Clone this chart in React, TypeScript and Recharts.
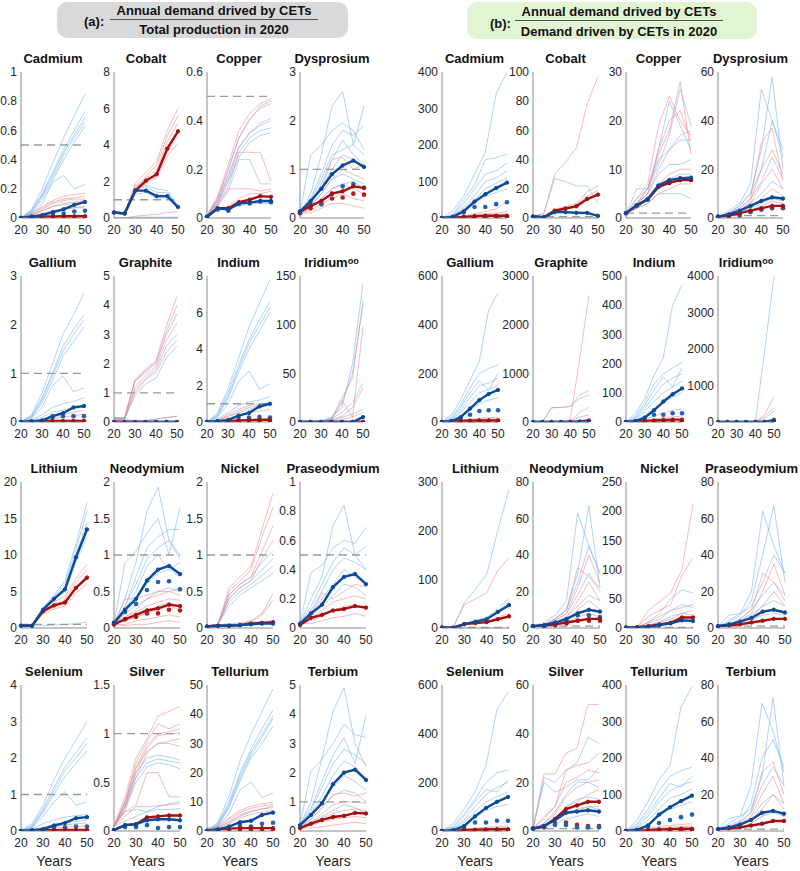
import React from 'react';
import { LineChart, Line, XAxis, YAxis, ReferenceLine } from 'recharts';

// x values are years since 2000
const YEARS = [20, 25, 30, 35, 40, 45, 50];
const X_TICKS = [20, 30, 40, 50];

type Panel = {
  name: string;
  sup?: string;
  ticks: number[];
  ref?: number;
  blue: number[];
  red: number[];
  blueDots?: number[];
  redDots?: number[];
  fadedBlue: number[][];
  fadedRed: number[][];
};

// ---------- (a) demand / total production in 2020 ----------
const cadmiumA: Panel = {
  name: 'Cadmium', ticks: [0, 0.2, 0.4, 0.6, 0.8, 1], ref: 0.5,
  blue: [0, 0.01, 0.02, 0.04, 0.06, 0.09, 0.11],
  red: [0, 0.005, 0.01, 0.01, 0.012, 0.012, 0.012],
  blueDots: [0, 0.005, 0.01, 0.03, 0.03, 0.045, 0.05],
  redDots: [0, 0, 0.003, 0.005, 0.005, 0.005, 0.005],
  fadedBlue: [
    [0, 0.06, 0.2, 0.38, 0.55, 0.7, 0.85],
    [0, 0.05, 0.17, 0.32, 0.47, 0.6, 0.73],
    [0, 0.05, 0.16, 0.3, 0.45, 0.57, 0.69],
    [0, 0.04, 0.15, 0.28, 0.43, 0.55, 0.66],
    [0, 0.04, 0.13, 0.26, 0.4, 0.52, 0.63],
    [0, 0.03, 0.1, 0.25, 0.29, 0.2, 0.23],
    [0, 0.02, 0.05, 0.08, 0.09, 0.1, 0.1],
    [0, 0.01, 0.03, 0.05, 0.06, 0.07, 0.07],
  ],
  fadedRed: [
    [0, 0.03, 0.08, 0.12, 0.15, 0.16, 0.17],
    [0, 0.03, 0.07, 0.11, 0.13, 0.14, 0.15],
    [0, 0.02, 0.06, 0.1, 0.12, 0.13, 0.13],
    [0, 0.02, 0.05, 0.08, 0.1, 0.11, 0.12],
    [0, 0.01, 0.03, 0.05, 0.06, 0.07, 0.08],
  ],
};

const cobaltA: Panel = {
  name: 'Cobalt', ticks: [0, 2, 4, 6, 8], ref: 1,
  blue: [0.3, 0.25, 1.5, 1.5, 1.2, 1.2, 0.6],
  red: [0.3, 0.25, 1.5, 2.05, 2.4, 3.8, 4.75],
  fadedBlue: [
    [0.3, 0.3, 1.8, 1.8, 1.6, 1.5, 0.7],
    [0.3, 0.3, 1.6, 1.7, 1.4, 1.4, 0.6],
    [0.3, 0.3, 1.3, 1.4, 1.1, 1.1, 0.5],
    [0, 0, 0.05, 0.05, 0.05, 0.05, 0.05],
  ],
  fadedRed: [
    [0.3, 0.3, 1.9, 2.5, 3.1, 4.8, 6.0],
    [0.3, 0.3, 1.7, 2.3, 2.9, 4.5, 5.6],
    [0.3, 0.3, 1.6, 2.2, 2.6, 4.2, 5.2],
    [0.3, 0.3, 1.5, 2.0, 2.3, 3.6, 4.5],
    [0.3, 0.3, 1.4, 1.9, 2.2, 3.4, 4.1],
    [0, 0, 0.1, 0.15, 0.2, 0.3, 0.35],
  ],
};

const copperA: Panel = {
  name: 'Copper', ticks: [0, 0.2, 0.4, 0.6], ref: 0.5,
  blue: [0.005, 0.04, 0.035, 0.06, 0.063, 0.07, 0.07],
  red: [0.005, 0.04, 0.04, 0.065, 0.075, 0.09, 0.087],
  blueDots: [0.005, 0.035, 0.03, 0.058, 0.06, 0.068, 0.065],
  fadedBlue: [
    [0.01, 0.08, 0.2, 0.33, 0.41, 0.45, 0.47],
    [0.01, 0.07, 0.18, 0.29, 0.35, 0.38, 0.4],
    [0.01, 0.06, 0.16, 0.27, 0.33, 0.36, 0.37],
    [0.01, 0.06, 0.15, 0.25, 0.31, 0.34, 0.35],
    [0.01, 0.05, 0.11, 0.24, 0.24, 0.14, 0.14],
    [0.01, 0.03, 0.04, 0.05, 0.06, 0.06, 0.06],
  ],
  fadedRed: [
    [0.01, 0.09, 0.22, 0.36, 0.43, 0.47, 0.49],
    [0.01, 0.08, 0.2, 0.33, 0.4, 0.46, 0.48],
    [0.01, 0.07, 0.17, 0.29, 0.35, 0.39, 0.41],
    [0.01, 0.06, 0.13, 0.27, 0.27, 0.27, 0.15],
    [0.01, 0.05, 0.12, 0.12, 0.12, 0.11, 0.12],
    [0.01, 0.03, 0.05, 0.08, 0.1, 0.1, 0.11],
  ],
};

const dysprosiumA: Panel = {
  name: 'Dysprosium', ticks: [0, 1, 2, 3], ref: 1,
  blue: [0.13, 0.35, 0.6, 0.9, 1.08, 1.18, 1.05],
  red: [0.13, 0.25, 0.35, 0.5, 0.55, 0.65, 0.62],
  blueDots: [0.13, 0.28, 0.3, 0.5, 0.65, 0.7, 0.62],
  redDots: [0.1, 0.2, 0.28, 0.4, 0.42, 0.5, 0.48],
  fadedBlue: [
    [0.1, 0.5, 1.3, 2.3, 2.6, 1.5, 1.3],
    [0.1, 1.3, 1.5, 1.8, 1.95, 1.8, 1.4],
    [0.1, 0.4, 0.9, 1.5, 1.8, 1.7, 1.9],
    [0.1, 0.35, 0.8, 1.3, 1.4, 1.5, 2.3],
    [0.1, 0.3, 0.7, 1.2, 1.6, 1.3, 1.1],
    [0.1, 0.3, 0.6, 1.0, 1.3, 1.2, 1.0],
    [0.1, 0.25, 0.5, 0.8, 0.9, 0.8, 0.7],
    [0.1, 0.2, 0.4, 0.6, 0.7, 0.75, 0.6],
  ],
  fadedRed: [
    [0.1, 0.3, 0.6, 1.2, 1.25, 1.0, 1.1],
    [0.1, 0.25, 0.5, 0.8, 1.0, 0.9, 0.8],
    [0.1, 0.2, 0.4, 0.6, 0.7, 0.6, 0.5],
    [0.1, 0.15, 0.3, 0.4, 0.5, 0.4, 0.35],
    [0.1, 0.1, 0.2, 0.3, 0.3, 0.25, 0.2],
  ],
};

const galliumA: Panel = {
  name: 'Gallium', ticks: [0, 1, 2, 3], ref: 1,
  blue: [0, 0.01, 0.03, 0.12, 0.18, 0.3, 0.33],
  red: [0, 0.01, 0.02, 0.02, 0.02, 0.02, 0.02],
  blueDots: [0, 0.01, 0.02, 0.1, 0.12, 0.12, 0.12],
  redDots: [0, 0.005, 0.01, 0.01, 0.01, 0.01, 0.01],
  fadedBlue: [
    [0, 0.15, 0.6, 1.2, 1.8, 2.2, 2.65],
    [0, 0.12, 0.5, 1.0, 1.55, 1.9, 2.2],
    [0, 0.1, 0.45, 0.95, 1.45, 1.8, 2.1],
    [0, 0.1, 0.4, 0.85, 1.35, 1.65, 1.95],
    [0, 0.08, 0.3, 0.75, 0.95, 0.62, 0.7],
    [0, 0.05, 0.15, 0.3, 0.38, 0.42, 0.5],
    [0, 0.03, 0.1, 0.2, 0.25, 0.28, 0.3],
  ],
  fadedRed: [
    [0, 0.02, 0.06, 0.1, 0.15, 0.2, 0.25],
    [0, 0.01, 0.04, 0.07, 0.1, 0.13, 0.16],
  ],
};

const graphiteA: Panel = {
  name: 'Graphite', ticks: [0, 1, 2, 3, 4, 5], ref: 1,
  blue: [0, 0, 0, 0, 0, 0, 0],
  red: [0, 0, 0, 0, 0, 0, 0],
  fadedBlue: [
    [0.1, 0.1, 1.4, 1.7, 2.0, 3.0, 3.7],
    [0.1, 0.1, 1.1, 1.5, 1.8, 2.6, 3.0],
    [0.1, 0.1, 0.9, 1.3, 1.5, 2.2, 2.6],
    [0.15, 0.1, 0.05, 0.05, 0.1, 0.15, 0.2],
  ],
  fadedRed: [
    [0.15, 0.15, 1.45, 1.8, 2.1, 3.3, 4.3],
    [0.15, 0.15, 1.4, 1.75, 2.05, 3.1, 4.0],
    [0.1, 0.1, 1.2, 1.6, 1.9, 2.8, 3.4],
    [0.1, 0.1, 1.0, 1.45, 1.7, 2.4, 2.8],
    [0.05, 0.05, 0.05, 0.05, 0.1, 0.15, 0.2],
  ],
};

const indiumA: Panel = {
  name: 'Indium', ticks: [0, 2, 4, 6, 8], ref: 1,
  blue: [0, 0.05, 0.1, 0.35, 0.5, 0.85, 1.0],
  red: [0, 0.02, 0.05, 0.08, 0.1, 0.12, 0.12],
  blueDots: [0, 0.02, 0.05, 0.25, 0.25, 0.28, 0.25],
  redDots: [0, 0, 0.01, 0.01, 0.01, 0.01, 0.01],
  fadedBlue: [
    [0, 0.5, 1.8, 3.5, 5.2, 6.5, 7.8],
    [0, 0.4, 1.6, 3.1, 4.5, 5.6, 6.6],
    [0, 0.35, 1.4, 2.9, 4.3, 5.3, 6.3],
    [0, 0.3, 1.3, 2.7, 4.0, 5.0, 6.0],
    [0, 0.25, 1.0, 2.2, 2.8, 1.8, 2.1],
    [0, 0.15, 0.5, 0.9, 1.1, 1.2, 1.4],
    [0, 0.1, 0.3, 0.6, 0.8, 0.9, 1.0],
  ],
  fadedRed: [
    [0, 0.1, 0.4, 0.7, 0.9, 1.0, 1.05],
    [0, 0.08, 0.3, 0.5, 0.7, 0.85, 0.95],
    [0, 0.05, 0.2, 0.35, 0.5, 0.6, 0.7],
  ],
};

const iridiumA: Panel = {
  name: 'Iridium', sup: 'oo', ticks: [0, 50, 100, 150], ref: 1,
  blue: [0, 0, 0, 0, 0, 0, 5],
  red: [0, 0, 0, 0, 0, 0, 0],
  blueDots: [0, 0, 0, 0, 0, 0, 0],
  fadedBlue: [
    [0, 0, 1, 5, 15, 60, 142],
    [0, 0, 1, 4, 25, 45, 125],
    [0, 0, 0.5, 3, 10, 20, 40],
    [0, 0, 0.5, 2, 5, 8, 13],
  ],
  fadedRed: [
    [0, 0, 0.5, 3, 20, 50, 120],
    [0, 0, 0.5, 2, 22, 5, 98],
    [0, 0, 0.5, 2, 6, 15, 35],
    [0, 0, 0, 1, 3, 5, 10],
  ],
};

const lithiumA: Panel = {
  name: 'Lithium', ticks: [0, 5, 10, 15, 20], ref: 0.5,
  blue: [0.3, 0.3, 2.5, 4.0, 5.3, 9.7, 13.5],
  red: [0.3, 0.3, 2.3, 3.1, 3.5, 5.5, 6.9],
  fadedBlue: [
    [0.3, 0.3, 2.8, 4.5, 6.5, 11.5, 17.2],
    [0.3, 0.3, 2.7, 4.3, 6.0, 10.8, 16.0],
    [0.3, 0.3, 2.5, 4.1, 5.5, 10.0, 14.5],
    [0.3, 0.3, 2.3, 3.8, 5.0, 9.0, 12.5],
    [0.3, 0.3, 0.3, 0.4, 0.5, 0.6, 0.8],
  ],
  fadedRed: [
    [0.3, 0.3, 2.6, 3.6, 4.3, 6.8, 8.7],
    [0.3, 0.3, 2.4, 3.3, 3.9, 6.3, 8.0],
    [0.3, 0.3, 2.1, 2.9, 3.3, 5.5, 7.3],
    [0.3, 0.3, 1.9, 2.6, 3.0, 4.8, 6.0],
  ],
};

const neodymiumA: Panel = {
  name: 'Neodymium', ticks: [0, 0.5, 1, 1.5, 2], ref: 1,
  blue: [0.07, 0.25, 0.4, 0.65, 0.8, 0.85, 0.74],
  red: [0.05, 0.12, 0.18, 0.24, 0.27, 0.32, 0.3],
  blueDots: [0.07, 0.22, 0.33, 0.52, 0.63, 0.64, 0.53],
  redDots: [0.05, 0.12, 0.15, 0.2, 0.2, 0.25, 0.24],
  fadedBlue: [
    [0.05, 0.4, 0.9, 1.6, 1.93, 1.2, 0.95],
    [0.05, 0.9, 1.05, 1.3, 1.5, 1.0, 1.65],
    [0.05, 0.3, 0.7, 1.1, 1.25, 1.35, 1.35],
    [0.05, 0.3, 0.6, 0.95, 1.1, 1.2, 1.0],
    [0.05, 0.25, 0.5, 0.85, 1.0, 0.8, 0.9],
    [0.05, 0.2, 0.4, 0.6, 0.75, 0.8, 0.7],
    [0.05, 0.15, 0.25, 0.4, 0.5, 0.55, 0.5],
    [0.05, 0.1, 0.15, 0.2, 0.3, 0.35, 0.3],
  ],
  fadedRed: [
    [0.05, 0.4, 0.4, 0.45, 0.5, 0.5, 0.55],
    [0.05, 0.2, 0.3, 0.4, 0.45, 0.5, 0.45],
    [0.05, 0.15, 0.22, 0.3, 0.35, 0.4, 0.38],
    [0.05, 0.1, 0.15, 0.2, 0.25, 0.3, 0.25],
    [0.05, 0.05, 0.1, 0.12, 0.15, 0.18, 0.15],
    [0.05, 0.03, 0.05, 0.05, 0.08, 0.1, 0.08],
  ],
};

const nickelA: Panel = {
  name: 'Nickel', ticks: [0, 0.5, 1, 1.5, 2], ref: 1,
  blue: [0.02, 0.03, 0.03, 0.04, 0.05, 0.06, 0.06],
  red: [0.02, 0.03, 0.03, 0.04, 0.06, 0.07, 0.08],
  fadedBlue: [
    [0.03, 0.05, 0.45, 0.6, 0.7, 0.9, 1.05],
    [0.03, 0.05, 0.4, 0.55, 0.65, 0.8, 0.95],
    [0.03, 0.05, 0.35, 0.5, 0.6, 0.72, 0.85],
    [0.03, 0.05, 0.3, 0.45, 0.55, 0.65, 0.75],
    [0.02, 0.04, 0.06, 0.07, 0.08, 0.09, 0.1],
  ],
  fadedRed: [
    [0.03, 0.05, 0.55, 0.7, 0.85, 1.35, 1.85],
    [0.03, 0.05, 0.5, 0.65, 0.8, 1.25, 1.65],
    [0.03, 0.05, 0.45, 0.6, 0.7, 1.05, 1.4],
    [0.03, 0.05, 0.4, 0.55, 0.65, 0.95, 1.2],
    [0.02, 0.03, 0.04, 0.06, 0.1, 0.2, 0.47],
    [0.02, 0.03, 0.04, 0.05, 0.08, 0.18, 0.38],
  ],
};

const praseodymiumA: Panel = {
  name: 'Praseodymium', ticks: [0, 0.2, 0.4, 0.6, 0.8, 1], ref: 0.5,
  blue: [0.03, 0.1, 0.16, 0.28, 0.35, 0.37, 0.3],
  red: [0.02, 0.07, 0.09, 0.12, 0.13, 0.15, 0.14],
  fadedBlue: [
    [0.03, 0.2, 0.35, 0.7, 0.84, 0.5, 0.4],
    [0.03, 0.38, 0.43, 0.55, 0.6, 0.58, 0.69],
    [0.03, 0.15, 0.3, 0.45, 0.55, 0.5, 0.56],
    [0.03, 0.12, 0.25, 0.4, 0.48, 0.45, 0.4],
    [0.03, 0.1, 0.2, 0.3, 0.4, 0.35, 0.3],
    [0.03, 0.08, 0.15, 0.22, 0.3, 0.28, 0.22],
  ],
  fadedRed: [
    [0.03, 0.1, 0.24, 0.2, 0.25, 0.3, 0.28],
    [0.03, 0.07, 0.12, 0.18, 0.2, 0.22, 0.2],
    [0.03, 0.05, 0.08, 0.12, 0.15, 0.16, 0.12],
    [0.03, 0.03, 0.05, 0.07, 0.08, 0.1, 0.08],
  ],
};

const seleniumA: Panel = {
  name: 'Selenium', ticks: [0, 1, 2, 3, 4], ref: 1,
  blue: [0, 0.02, 0.05, 0.15, 0.22, 0.35, 0.38],
  red: [0, 0.01, 0.02, 0.02, 0.03, 0.03, 0.03],
  blueDots: [0, 0.01, 0.03, 0.1, 0.1, 0.12, 0.12],
  redDots: [0, 0, 0.01, 0.01, 0.01, 0.01, 0.01],
  fadedBlue: [
    [0, 0.2, 0.7, 1.4, 2.0, 2.5, 3.0],
    [0, 0.15, 0.6, 1.2, 1.75, 2.15, 2.55],
    [0, 0.12, 0.55, 1.1, 1.65, 2.0, 2.4],
    [0, 0.1, 0.5, 1.0, 1.5, 1.85, 2.2],
    [0, 0.08, 0.4, 0.8, 1.08, 0.7, 0.8],
    [0, 0.05, 0.2, 0.3, 0.38, 0.42, 0.45],
    [0, 0.03, 0.1, 0.18, 0.22, 0.26, 0.3],
  ],
  fadedRed: [
    [0, 0.02, 0.08, 0.12, 0.16, 0.2, 0.22],
    [0, 0.01, 0.05, 0.08, 0.1, 0.12, 0.14],
  ],
};

const silverA: Panel = {
  name: 'Silver', ticks: [0, 0.5, 1, 1.5], ref: 1,
  blue: [0.01, 0.06, 0.07, 0.11, 0.12, 0.12, 0.11],
  red: [0.01, 0.06, 0.07, 0.14, 0.15, 0.16, 0.16],
  blueDots: [0.01, 0.04, 0.04, 0.06, 0.03, 0.04, 0.04],
  fadedBlue: [
    [0.05, 0.3, 0.65, 0.82, 0.9, 0.9, 0.87],
    [0.05, 0.28, 0.6, 0.75, 0.78, 0.76, 0.73],
    [0.05, 0.25, 0.55, 0.7, 0.74, 0.72, 0.7],
    [0.05, 0.22, 0.5, 0.66, 0.7, 0.68, 0.64],
    [0.05, 0.2, 0.22, 0.2, 0.25, 0.28, 0.3],
    [0.05, 0.1, 0.15, 0.2, 0.22, 0.22, 0.23],
  ],
  fadedRed: [
    [0.05, 0.35, 0.75, 0.95, 1.18, 1.23, 1.28],
    [0.05, 0.3, 0.7, 0.92, 1.1, 1.05, 1.1],
    [0.05, 0.28, 0.65, 0.88, 1.0, 1.02, 1.05],
    [0.05, 0.25, 0.6, 0.85, 0.98, 1.0, 1.0],
    [0.05, 0.22, 0.55, 0.8, 0.9, 0.92, 0.95],
    [0.05, 0.2, 0.27, 0.6, 0.6, 0.35, 0.35],
    [0.05, 0.15, 0.25, 0.25, 0.26, 0.27, 0.28],
  ],
};

const telluriumA: Panel = {
  name: 'Tellurium', ticks: [0, 10, 20, 30, 40, 50], ref: 1,
  blue: [0, 0.5, 1.5, 3.0, 3.5, 5.5, 6.3],
  red: [0, 0.5, 0.8, 1.0, 1.0, 1.0, 1.0],
  blueDots: [0, 0.3, 0.8, 2.0, 1.5, 2.5, 2.8],
  redDots: [0, 0.2, 0.4, 0.5, 0.5, 0.5, 0.5],
  fadedBlue: [
    [0, 3, 12, 24, 33, 41, 48.6],
    [0, 2.5, 10, 20, 28, 35, 41.5],
    [0, 2.2, 9, 19, 27, 33, 39.5],
    [0, 2, 8.5, 18, 26, 32, 38.5],
    [0, 1.8, 8, 17, 25, 30, 36],
    [0, 1.5, 6, 14, 16.8, 11.5, 13],
    [0, 1, 3, 5, 6.5, 7.5, 8.5],
  ],
  fadedRed: [
    [0, 1.5, 4.5, 7, 8.5, 9.3, 9.8],
    [0, 1.2, 4, 6.3, 7.8, 8.6, 9.0],
    [0, 1, 3.3, 5.5, 6.8, 7.6, 8.0],
    [0, 0.8, 2.5, 4.5, 5.7, 6.5, 7.0],
  ],
};

const terbiumA: Panel = {
  name: 'Terbium', ticks: [0, 1, 2, 3, 4, 5], ref: 1,
  blue: [0.2, 0.55, 0.95, 1.6, 2.0, 2.1, 1.75],
  red: [0.1, 0.25, 0.38, 0.48, 0.52, 0.62, 0.6],
  fadedBlue: [
    [0.2, 1.0, 2.5, 4.1, 4.9, 3.0, 2.2],
    [0.2, 2.05, 2.45, 3.0, 3.65, 3.3, 3.2],
    [0.2, 0.8, 1.7, 2.6, 3.2, 2.3, 3.95],
    [0.2, 0.7, 1.5, 2.3, 2.8, 2.6, 2.3],
    [0.2, 0.6, 1.2, 1.9, 2.4, 2.2, 1.8],
    [0.2, 0.5, 1.0, 1.5, 1.9, 1.7, 1.4],
    [0.2, 0.4, 0.8, 1.2, 1.4, 1.3, 1.0],
    [0.2, 0.3, 0.5, 0.7, 0.9, 0.8, 0.6],
  ],
  fadedRed: [
    [0.1, 0.4, 0.8, 1.25, 1.3, 1.2, 1.3],
    [0.1, 0.3, 0.6, 0.9, 1.0, 1.0, 0.95],
    [0.1, 0.25, 0.45, 0.6, 0.7, 0.75, 0.7],
    [0.1, 0.2, 0.3, 0.4, 0.45, 0.5, 0.45],
    [0.1, 0.1, 0.15, 0.2, 0.25, 0.3, 0.25],
  ],
};

// ---------- (b) demand / CET demand in 2020 ----------
const cadmiumB: Panel = {
  name: 'Cadmium', ticks: [0, 100, 200, 300, 400], ref: 1,
  blue: [0, 3, 18, 45, 65, 82, 97],
  red: [0, 1, 3, 5, 6, 6, 6],
  blueDots: [0, 2, 15, 30, 30, 38, 43],
  redDots: [0, 0, 2, 3, 3, 4, 4],
  fadedBlue: [
    [0, 20, 60, 120, 180, 340, 400],
    [0, 10, 50, 90, 160, 165, 175],
    [0, 8, 40, 80, 120, 130, 150],
    [0, 6, 30, 60, 100, 110, 130],
    [0, 5, 25, 50, 80, 95, 110],
    [0, 4, 20, 40, 60, 70, 80],
  ],
  fadedRed: [
    [0, 2, 6, 12, 18, 25, 45],
    [0, 1, 4, 8, 12, 14, 18],
    [0, 1, 3, 5, 8, 10, 12],
  ],
};

const cobaltB: Panel = {
  name: 'Cobalt', ticks: [0, 20, 40, 60, 80, 100], ref: 1,
  blue: [1, 0.5, 4, 4, 3.5, 3.5, 1.5],
  red: [1, 0.5, 5, 6.5, 8, 13, 16],
  fadedBlue: [
    [1, 3, 27, 25, 22, 22, 10],
    [1, 1, 5, 5, 4, 4, 2],
  ],
  fadedRed: [
    [1, 3, 30, 38, 48, 78, 97],
    [1, 1, 6, 8, 10, 18, 22],
    [1, 1, 5, 7, 9, 15, 19],
  ],
};

const copperB: Panel = {
  name: 'Copper', ticks: [0, 10, 20, 30], ref: 1,
  blue: [1, 2.6, 3.9, 6.7, 7.8, 8.2, 8.3],
  red: [1, 2.6, 3.8, 6.4, 7.2, 7.8, 7.8],
  blueDots: [1, 2.6, 3.8, 6.5, 7.2, 7.8, 7.8],
  fadedBlue: [
    [1, 3, 6, 14, 24, 19, 14],
    [1, 4, 6, 11, 17, 26.5, 19],
    [1, 6, 6, 12, 14, 16, 16],
    [1, 3, 5, 9, 11, 11, 12],
    [1, 2, 4, 7, 8, 9, 9],
    [1, 2, 3, 5, 5, 5, 4],
  ],
  fadedRed: [
    [1, 3, 6, 13, 18, 28, 13],
    [1, 4, 7, 19, 25, 20, 17],
    [1, 3, 5, 14, 20, 22, 16],
    [1, 3, 5, 10, 14, 17, 18],
    [1, 2, 4, 7, 9, 10, 10],
    [1, 2, 3, 5, 6, 7, 7],
  ],
};

const dysprosiumB: Panel = {
  name: 'Dysprosium', ticks: [0, 20, 40, 60], ref: 1,
  blue: [0.5, 1.5, 3, 5, 7, 8.5, 8],
  red: [0.5, 1, 2, 3, 4, 5, 5],
  blueDots: [0.5, 1, 1.3, 2.5, 3.5, 4.5, 4.5],
  redDots: [0.5, 0.8, 1, 2.5, 3.5, 4, 4],
  fadedBlue: [
    [0.5, 3, 6, 14, 53, 40, 25],
    [0.5, 2, 5, 10, 28, 58, 20],
    [0.5, 2, 5, 10, 20, 40, 28],
    [0.5, 2, 4, 8, 15, 25, 16],
    [0.5, 1.5, 3, 6, 10, 15, 12],
    [0.5, 1, 2, 4, 6, 8, 7],
  ],
  fadedRed: [
    [0.5, 2, 4, 8, 31, 37, 15],
    [0.5, 1.5, 3, 7, 20, 28, 18],
    [0.5, 1.5, 3, 6, 14, 20, 12],
    [0.5, 1, 2, 4, 8, 12, 9],
    [0.5, 1, 2, 3, 5, 7, 6],
  ],
};

const galliumB: Panel = {
  name: 'Gallium', ticks: [0, 200, 400, 600], ref: 1,
  blue: [0, 3, 20, 55, 90, 115, 132],
  red: [0, 2, 4, 5, 6, 6, 6],
  blueDots: [0, 2, 10, 30, 45, 48, 48],
  redDots: [0, 1, 3, 4, 5, 5, 5],
  fadedBlue: [
    [0, 30, 90, 170, 250, 460, 530],
    [0, 20, 70, 140, 200, 220, 235],
    [0, 15, 60, 120, 170, 130, 200],
    [0, 10, 50, 100, 150, 160, 180],
    [0, 8, 40, 80, 120, 135, 150],
    [0, 5, 25, 50, 75, 90, 100],
  ],
  fadedRed: [
    [0, 3, 8, 12, 15, 18, 20],
    [0, 2, 5, 8, 10, 12, 14],
  ],
};

const graphiteB: Panel = {
  name: 'Graphite', ticks: [0, 1000, 2000, 3000], ref: 1,
  blue: [0, 0, 0, 0, 0, 0, 0],
  red: [0, 0, 0, 0, 0, 10, 30],
  fadedBlue: [
    [0, 0, 300, 300, 320, 480, 560],
    [0, 0, 0, 0, 20, 100, 150],
  ],
  fadedRed: [
    [0, 0, 290, 300, 320, 550, 650],
    [0, 0, 0, 0, 50, 1300, 2600],
    [0, 0, 0, 0, 10, 200, 300],
  ],
};

const indiumB: Panel = {
  name: 'Indium', ticks: [0, 100, 200, 300, 400, 500], ref: 1,
  blue: [0, 3, 15, 40, 70, 95, 115],
  red: [0, 2, 4, 5, 7, 8, 8],
  blueDots: [0, 2, 10, 25, 25, 30, 30],
  redDots: [0, 1, 2, 2, 2, 2, 2],
  fadedBlue: [
    [0, 30, 80, 160, 220, 400, 470],
    [0, 20, 65, 130, 165, 185, 205],
    [0, 15, 55, 110, 155, 120, 185],
    [0, 10, 45, 90, 130, 150, 165],
    [0, 8, 35, 70, 100, 120, 140],
    [0, 5, 20, 45, 65, 85, 100],
  ],
  fadedRed: [
    [0, 3, 10, 20, 30, 40, 45],
    [0, 2, 5, 10, 15, 18, 20],
  ],
};

const iridiumB: Panel = {
  name: 'Iridium', sup: 'oo', ticks: [0, 1000, 2000, 3000, 4000], ref: 1,
  blue: [0, 0, 0, 0, 0, 0, 60],
  red: [0, 0, 0, 0, 0, 0, 0],
  fadedBlue: [
    [0, 0, 0, 0, 0, 1950, 3980],
    [0, 0, 0, 0, 0, 100, 300],
  ],
  fadedRed: [
    [0, 0, 0, 0, 0, 200, 700],
    [0, 0, 0, 0, 0, 150, 400],
  ],
};

const lithiumB: Panel = {
  name: 'Lithium', ticks: [0, 100, 200, 300], ref: 1,
  blue: [1, 0.5, 8, 13, 18, 33, 47],
  red: [1, 0.5, 8, 10, 12, 18, 24],
  fadedBlue: [
    [1, 1, 52, 80, 110, 200, 285],
    [1, 1, 9, 15, 22, 40, 62],
    [1, 1, 8, 13, 20, 35, 55],
  ],
  fadedRed: [
    [1, 1, 48, 60, 72, 118, 145],
    [1, 1, 8, 11, 14, 22, 30],
    [1, 1, 7, 9, 11, 17, 22],
  ],
};

const neodymiumB: Panel = {
  name: 'Neodymium', ticks: [0, 20, 40, 60, 80], ref: 1,
  blue: [1, 1.5, 3, 5, 8, 10, 9],
  red: [1, 1.5, 2, 3, 4, 5, 5],
  blueDots: [1, 1, 2, 4, 7, 7, 6],
  redDots: [1, 1, 1.5, 2.5, 4, 4, 4],
  fadedBlue: [
    [1, 3, 7, 15, 63, 45, 30],
    [1, 2, 5, 10, 30, 67, 22],
    [1, 2, 5, 10, 25, 45, 30],
    [1, 2, 4, 8, 18, 30, 20],
    [1, 1.5, 3, 6, 12, 18, 15],
    [1, 1, 2, 4, 8, 10, 8],
  ],
  fadedRed: [
    [1, 2, 5, 10, 33, 28, 22],
    [1, 2, 4, 8, 22, 40, 25],
    [1, 1.5, 3, 6, 15, 25, 15],
    [1, 1, 2, 4, 10, 15, 10],
    [1, 1, 2, 3, 6, 8, 6],
  ],
};

const nickelB: Panel = {
  name: 'Nickel', ticks: [0, 50, 100, 150, 200, 250], ref: 1,
  blue: [1, 1, 2, 5, 8, 13, 12],
  red: [1, 1.5, 3, 6, 9, 18, 18],
  fadedBlue: [
    [1, 1, 10, 25, 50, 65, 60],
    [1, 1, 8, 15, 30, 40, 35],
    [1, 1, 5, 10, 20, 25, 22],
    [1, 1, 3, 5, 10, 15, 15],
  ],
  fadedRed: [
    [1, 1, 30, 45, 60, 100, 212],
    [1, 1, 20, 30, 40, 90, 120],
    [1, 1, 10, 20, 30, 35, 40],
    [1, 1, 5, 10, 15, 25, 30],
  ],
};

const praseodymiumB: Panel = {
  name: 'Praseodymium', ticks: [0, 20, 40, 60, 80], ref: 1,
  blue: [1, 2, 3.5, 5.5, 9, 10, 8.5],
  red: [1, 1.5, 2, 3, 4, 5, 5],
  fadedBlue: [
    [1, 4, 8, 20, 64, 45, 30],
    [1, 3, 7, 15, 40, 67, 25],
    [1, 7, 8, 12, 25, 40, 30],
    [1, 2, 5, 10, 18, 25, 18],
    [1, 2, 4, 7, 12, 15, 12],
    [1, 1, 2, 4, 7, 8, 7],
  ],
  fadedRed: [
    [1, 2, 5, 10, 30, 25, 15],
    [1, 2, 4, 8, 20, 35, 18],
    [1, 1.5, 3, 6, 12, 20, 12],
    [1, 1, 2, 4, 8, 10, 8],
  ],
};

const seleniumB: Panel = {
  name: 'Selenium', ticks: [0, 200, 400, 600], ref: 1,
  blue: [0, 3, 20, 60, 95, 120, 140],
  red: [0, 1, 3, 5, 6, 7, 7],
  blueDots: [0, 2, 12, 35, 35, 42, 42],
  redDots: [0, 1, 2, 3, 4, 4, 4],
  fadedBlue: [
    [0, 30, 90, 160, 270, 500, 570],
    [0, 20, 70, 130, 200, 240, 250],
    [0, 15, 60, 120, 170, 160, 210],
    [0, 10, 45, 100, 150, 180, 200],
    [0, 8, 35, 80, 120, 140, 160],
    [0, 5, 25, 55, 85, 100, 110],
  ],
  fadedRed: [
    [0, 3, 8, 12, 15, 18, 20],
    [0, 2, 5, 8, 10, 12, 14],
  ],
};

const silverB: Panel = {
  name: 'Silver', ticks: [0, 20, 40, 60], ref: 1,
  blue: [1, 2, 4.5, 7.5, 8, 8.5, 8],
  red: [1, 2, 5, 9, 10.5, 12, 12],
  blueDots: [1, 2, 2.5, 2.5, 1.5, 1.5, 1.5],
  redDots: [1, 1.5, 3, 3.5, 2.5, 2, 2],
  fadedBlue: [
    [1, 22, 20, 25, 28, 38.5, 36],
    [1, 20, 16, 18, 21, 21, 26],
    [1, 3, 8, 15, 20, 20, 18],
    [1, 2, 5, 10, 13, 14, 13],
    [1, 2, 4, 7, 9, 10, 9],
    [1, 1, 3, 5, 6, 7, 6],
  ],
  fadedRed: [
    [1, 23.5, 23.5, 32, 34, 52, 52],
    [1, 5, 10, 25, 27, 28, 32],
    [1, 6, 10, 20, 22, 25, 24],
    [1, 3, 7, 14, 18, 20, 21],
    [1, 2, 5, 10, 12, 15, 17],
    [1, 2, 4, 7, 8, 10, 10],
  ],
};

const telluriumB: Panel = {
  name: 'Tellurium', ticks: [0, 100, 200, 300, 400], ref: 1,
  blue: [0, 3, 15, 45, 65, 82, 97],
  red: [0, 1, 2, 4, 5, 6, 6],
  blueDots: [0, 2, 12, 22, 30, 38, 45],
  redDots: [0, 1, 2, 3, 3, 4, 4],
  fadedBlue: [
    [0, 30, 80, 140, 180, 340, 395],
    [0, 20, 60, 110, 150, 165, 175],
    [0, 15, 50, 90, 130, 120, 150],
    [0, 10, 40, 80, 110, 125, 135],
    [0, 8, 30, 60, 90, 100, 115],
    [0, 5, 20, 40, 60, 70, 80],
  ],
  fadedRed: [
    [0, 3, 8, 12, 15, 18, 20],
    [0, 2, 5, 8, 10, 12, 14],
  ],
};

const terbiumB: Panel = {
  name: 'Terbium', ticks: [0, 20, 40, 60, 80], ref: 1,
  blue: [1, 2, 3.5, 6, 10, 11, 9.5],
  red: [1, 1.5, 2, 3, 4, 5.5, 5.5],
  fadedBlue: [
    [1, 4, 8, 25, 70, 55, 32],
    [1, 7, 8, 12, 30, 73, 25],
    [1, 3, 6, 15, 40, 50, 35],
    [1, 2, 5, 10, 25, 35, 25],
    [1, 2, 4, 7, 15, 20, 15],
    [1, 1, 2, 4, 8, 10, 8],
  ],
  fadedRed: [
    [1, 2, 5, 10, 32, 38, 20],
    [1, 2, 4, 8, 20, 30, 15],
    [1, 1.5, 3, 6, 12, 20, 12],
    [1, 1, 2, 4, 8, 12, 8],
  ],
};

const PANELS_A = [
  [cadmiumA, cobaltA, copperA, dysprosiumA],
  [galliumA, graphiteA, indiumA, iridiumA],
  [lithiumA, neodymiumA, nickelA, praseodymiumA],
  [seleniumA, silverA, telluriumA, terbiumA],
];
const PANELS_B = [
  [cadmiumB, cobaltB, copperB, dysprosiumB],
  [galliumB, graphiteB, indiumB, iridiumB],
  [lithiumB, neodymiumB, nickelB, praseodymiumB],
  [seleniumB, silverB, telluriumB, terbiumB],
];

// layout (plot area in page pixels)
const ROW_TOPS = [72, 276, 482, 685];
const PLOT_H = 146;
const COL_A = [21, 114, 207, 300];
const COL_B = [442, 533, 626, 718];
const WIDTH_A = [64, 63, 66, 66];
const WIDTH_B = [65, 56, 67, 66];

const FONT = "'Liberation Sans', Arial, sans-serif";
const BLUE = '#0b4a99';
const RED = '#a3100f';
const FADED_BLUE = '#78b6f2';
const FADED_RED = '#f08282';
const AXIS = '#8a8a8a';
const TICK = { fill: '#262626', fontSize: 12, fontFamily: FONT };

const YW = 40;
const MT = 8;
const MR = 8;
const XH = 22;

function buildRows(p: Panel) {
  return YEARS.map((x, i) => {
    const row: any = { x, blue: p.blue[i], red: p.red[i] };
    if (p.blueDots) row.bd = p.blueDots[i];
    if (p.redDots) row.rd = p.redDots[i];
    p.fadedBlue.forEach((s, k) => (row['fb' + k] = s[i]));
    p.fadedRed.forEach((s, k) => (row['fr' + k] = s[i]));
    return row;
  });
}

function SmallChart({ p, left, top, width }: { p: Panel; left: number; top: number; width: number }) {
  const rows = buildRows(p);
  const max = p.ticks[p.ticks.length - 1];
  return (
    <>
      <div
        style={{
          position: 'absolute', left: left + width / 2, top: top - 19, transform: 'translateX(-50%)',
          whiteSpace: 'nowrap', fontWeight: 'bold', fontSize: 13, lineHeight: '11px', color: '#111',
        }}
      >
        {p.name}
        {p.sup && <sup style={{ fontSize: 9, verticalAlign: 'top', lineHeight: '9px' }}>{p.sup}</sup>}
      </div>
      <div style={{ position: 'absolute', left: left - YW, top: top - MT }}>
        <LineChart
          width={YW + width + MR}
          height={MT + PLOT_H + XH}
          data={rows}
          margin={{ top: MT, right: MR, bottom: 0, left: 0 }}
        >
          <XAxis
            dataKey="x" type="number" domain={[20, 50]} ticks={X_TICKS} interval={0}
            height={XH} tickLine={false} tickSize={3} tickMargin={4} tick={TICK} stroke={AXIS}
          />
          <YAxis
            type="number" domain={[0, max]} ticks={p.ticks} interval={0} allowDataOverflow
            width={YW} tickLine={false} tickSize={3} tickMargin={1} tick={TICK} stroke={AXIS}
          />
          {p.fadedBlue.map((_, k) => (
            <Line key={'fb' + k} dataKey={'fb' + k} stroke={FADED_BLUE} strokeOpacity={0.6}
              strokeWidth={1} dot={false} activeDot={false} isAnimationActive={false} />
          ))}
          {p.fadedRed.map((_, k) => (
            <Line key={'fr' + k} dataKey={'fr' + k} stroke={FADED_RED} strokeOpacity={0.55}
              strokeWidth={1} dot={false} activeDot={false} isAnimationActive={false} />
          ))}
          {p.ref !== undefined && (
            <ReferenceLine y={p.ref} stroke="#9a9a9a" strokeWidth={1.3} strokeDasharray="8 5" />
          )}
          {p.redDots && (
            <Line dataKey="rd" stroke="none" dot={{ r: 2.3, fill: '#b3201c', stroke: 'none' }}
              activeDot={false} isAnimationActive={false} />
          )}
          {p.blueDots && (
            <Line dataKey="bd" stroke="none" dot={{ r: 2.3, fill: '#1f63b3', stroke: 'none' }}
              activeDot={false} isAnimationActive={false} />
          )}
          <Line dataKey="red" stroke={RED} strokeWidth={2.4}
            dot={{ r: 1.7, fill: RED, stroke: RED, strokeWidth: 1 }}
            activeDot={false} isAnimationActive={false} />
          <Line dataKey="blue" stroke={BLUE} strokeWidth={2.4}
            dot={{ r: 1.7, fill: BLUE, stroke: BLUE, strokeWidth: 1 }}
            activeDot={false} isAnimationActive={false} />
        </LineChart>
      </div>
    </>
  );
}

function Header({ label, num, den, boxLeft, boxWidth, boxHeight, bg, labelLeft, fracLeft, fracWidth, shift }: any) {
  return (
    <>
      <div style={{ position: 'absolute', left: boxLeft, top: 2, width: boxWidth, height: boxHeight, background: bg, borderRadius: 10 }} />
      <div style={{ position: 'absolute', left: labelLeft, top: 14 + shift, fontWeight: 'bold', fontSize: 13, lineHeight: '16px', color: '#111' }}>
        {label}
      </div>
      <div style={{ position: 'absolute', left: fracLeft, width: fracWidth, top: 3 + shift / 2, textAlign: 'center', fontWeight: 'bold', fontSize: 13, lineHeight: '16px', color: '#111' }}>
        {num}
      </div>
      <div style={{ position: 'absolute', left: fracLeft, width: fracWidth, top: 19 + shift / 2, height: 1.2, background: '#555' }} />
      <div style={{ position: 'absolute', left: fracLeft, width: fracWidth, top: 22 + shift, textAlign: 'center', fontWeight: 'bold', fontSize: 13, lineHeight: '16px', color: '#111' }}>
        {den}
      </div>
    </>
  );
}

export default function App() {
  return (
    <div style={{ position: 'absolute', left: 0, top: 0, width: 800, height: 871, background: '#fff', fontFamily: FONT, overflow: 'hidden' }}>
      <Header label="(a):" num="Annual demand drived by CETs" den="Total production in 2020"
        boxLeft={57} boxWidth={291} boxHeight={36} bg="#d9d9d9" labelLeft={84} fracLeft={110} fracWidth={208} shift={0} />
      <Header label="(b):" num="Annual demand drived by CETs" den="Demand driven by CETs in 2020"
        boxLeft={467} boxWidth={290} boxHeight={37} bg="#e2f5d2" labelLeft={490} fracLeft={515} fracWidth={208} shift={2} />

      {PANELS_A.map((row, r) =>
        row.map((p, c) => (
          <SmallChart key={'a' + r + c} p={p} left={COL_A[c]} top={ROW_TOPS[r]} width={WIDTH_A[r]} />
        ))
      )}
      {PANELS_B.map((row, r) =>
        row.map((p, c) => (
          <SmallChart key={'b' + r + c} p={p} left={COL_B[c]} top={ROW_TOPS[r]} width={WIDTH_B[r]} />
        ))
      )}

      {[...COL_A.map((x) => [x, WIDTH_A[3]]), ...COL_B.map((x) => [x, WIDTH_B[3]])].map(([x, w], i) => (
        <div key={'yr' + i}
          style={{ position: 'absolute', left: x + w / 2, top: 853, transform: 'translateX(-50%)', whiteSpace: 'nowrap', fontSize: 14, lineHeight: '16px', color: '#222' }}>
          Years
        </div>
      ))}
    </div>
  );
}
